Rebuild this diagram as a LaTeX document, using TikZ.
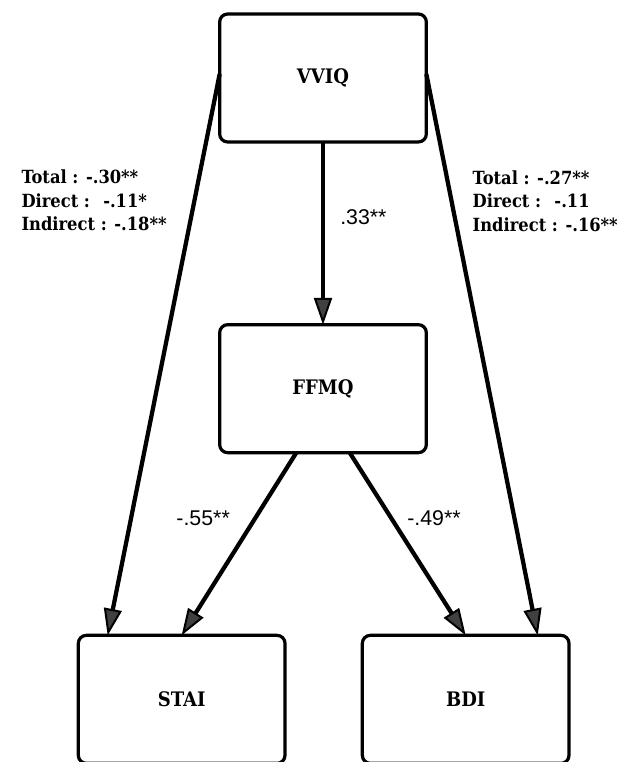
\documentclass[tikz,border=0pt]{standalone}
\usepackage{fontspec}
\usepackage{tikz}
\usetikzlibrary{positioning,arrows.meta,calc}
\newfontfamily\slabfont{DejaVu Serif Condensed}
\newfontfamily\numfont{Liberation Sans}
\tikzset{
  scale box/.style={draw, line width=2.4pt, rounded corners=6pt,
    minimum width=155pt, minimum height=96pt, outer sep=0pt,
    font=\slabfont\bfseries\fontsize{15}{18}\selectfont},
  coef/.style={font=\numfont\fontsize{16}{18}\selectfont},
  effects/.style={font=\slabfont\bfseries\fontsize{13.6}{17.6}\selectfont, align=left},
  >={Triangle[length=20pt,width=13.5pt,fill=black!75,line width=1.5pt]},
}

\begin{document}
\begin{tikzpicture}[
  x=0.75pt, y=-0.75pt,
  ->, line width=3.2pt,
  node distance=137pt
]
\path[use as bounding box] (0,0) rectangle (629,762);
\clip (0,0) rectangle (629,762);

\node[scale box] (VVIQ) at (323,78) {VVIQ};
\node[scale box,below=of VVIQ] (FFMQ) {FFMQ};
\node[scale box,below=of FFMQ,xshift=-106pt] (STAI) {STAI};
\node[scale box,below=of FFMQ,xshift=107pt] (BDI) {BDI};

\path
(VVIQ) edge node[coef,right=8pt,pos=0.41] (a) {.33**} (FFMQ)

([yshift=3pt]VVIQ.west) edge node[effects,left=16pt,pos=0.225] (c1)
  {Total : -.30**\\Direct : \ -.11*\\Indirect : -.18**} ([xshift=-55.5pt]STAI.north)
([yshift=3pt]VVIQ.east) edge node[effects,right=11pt,pos=0.226] (c2)
  {Total : -.27**\\Direct : \ -.11\\Indirect : -.16**} ([xshift=54pt]BDI.north)

([xshift=-20pt]FFMQ.south) edge node[coef,left=14pt,pos=0.36] (b1) {-.55**} (STAI.north)
([xshift=20pt]FFMQ.south) edge node[coef,right=7pt,pos=0.36] (b2) {-.49**} (BDI.north);

\end{tikzpicture}
\end{document}
